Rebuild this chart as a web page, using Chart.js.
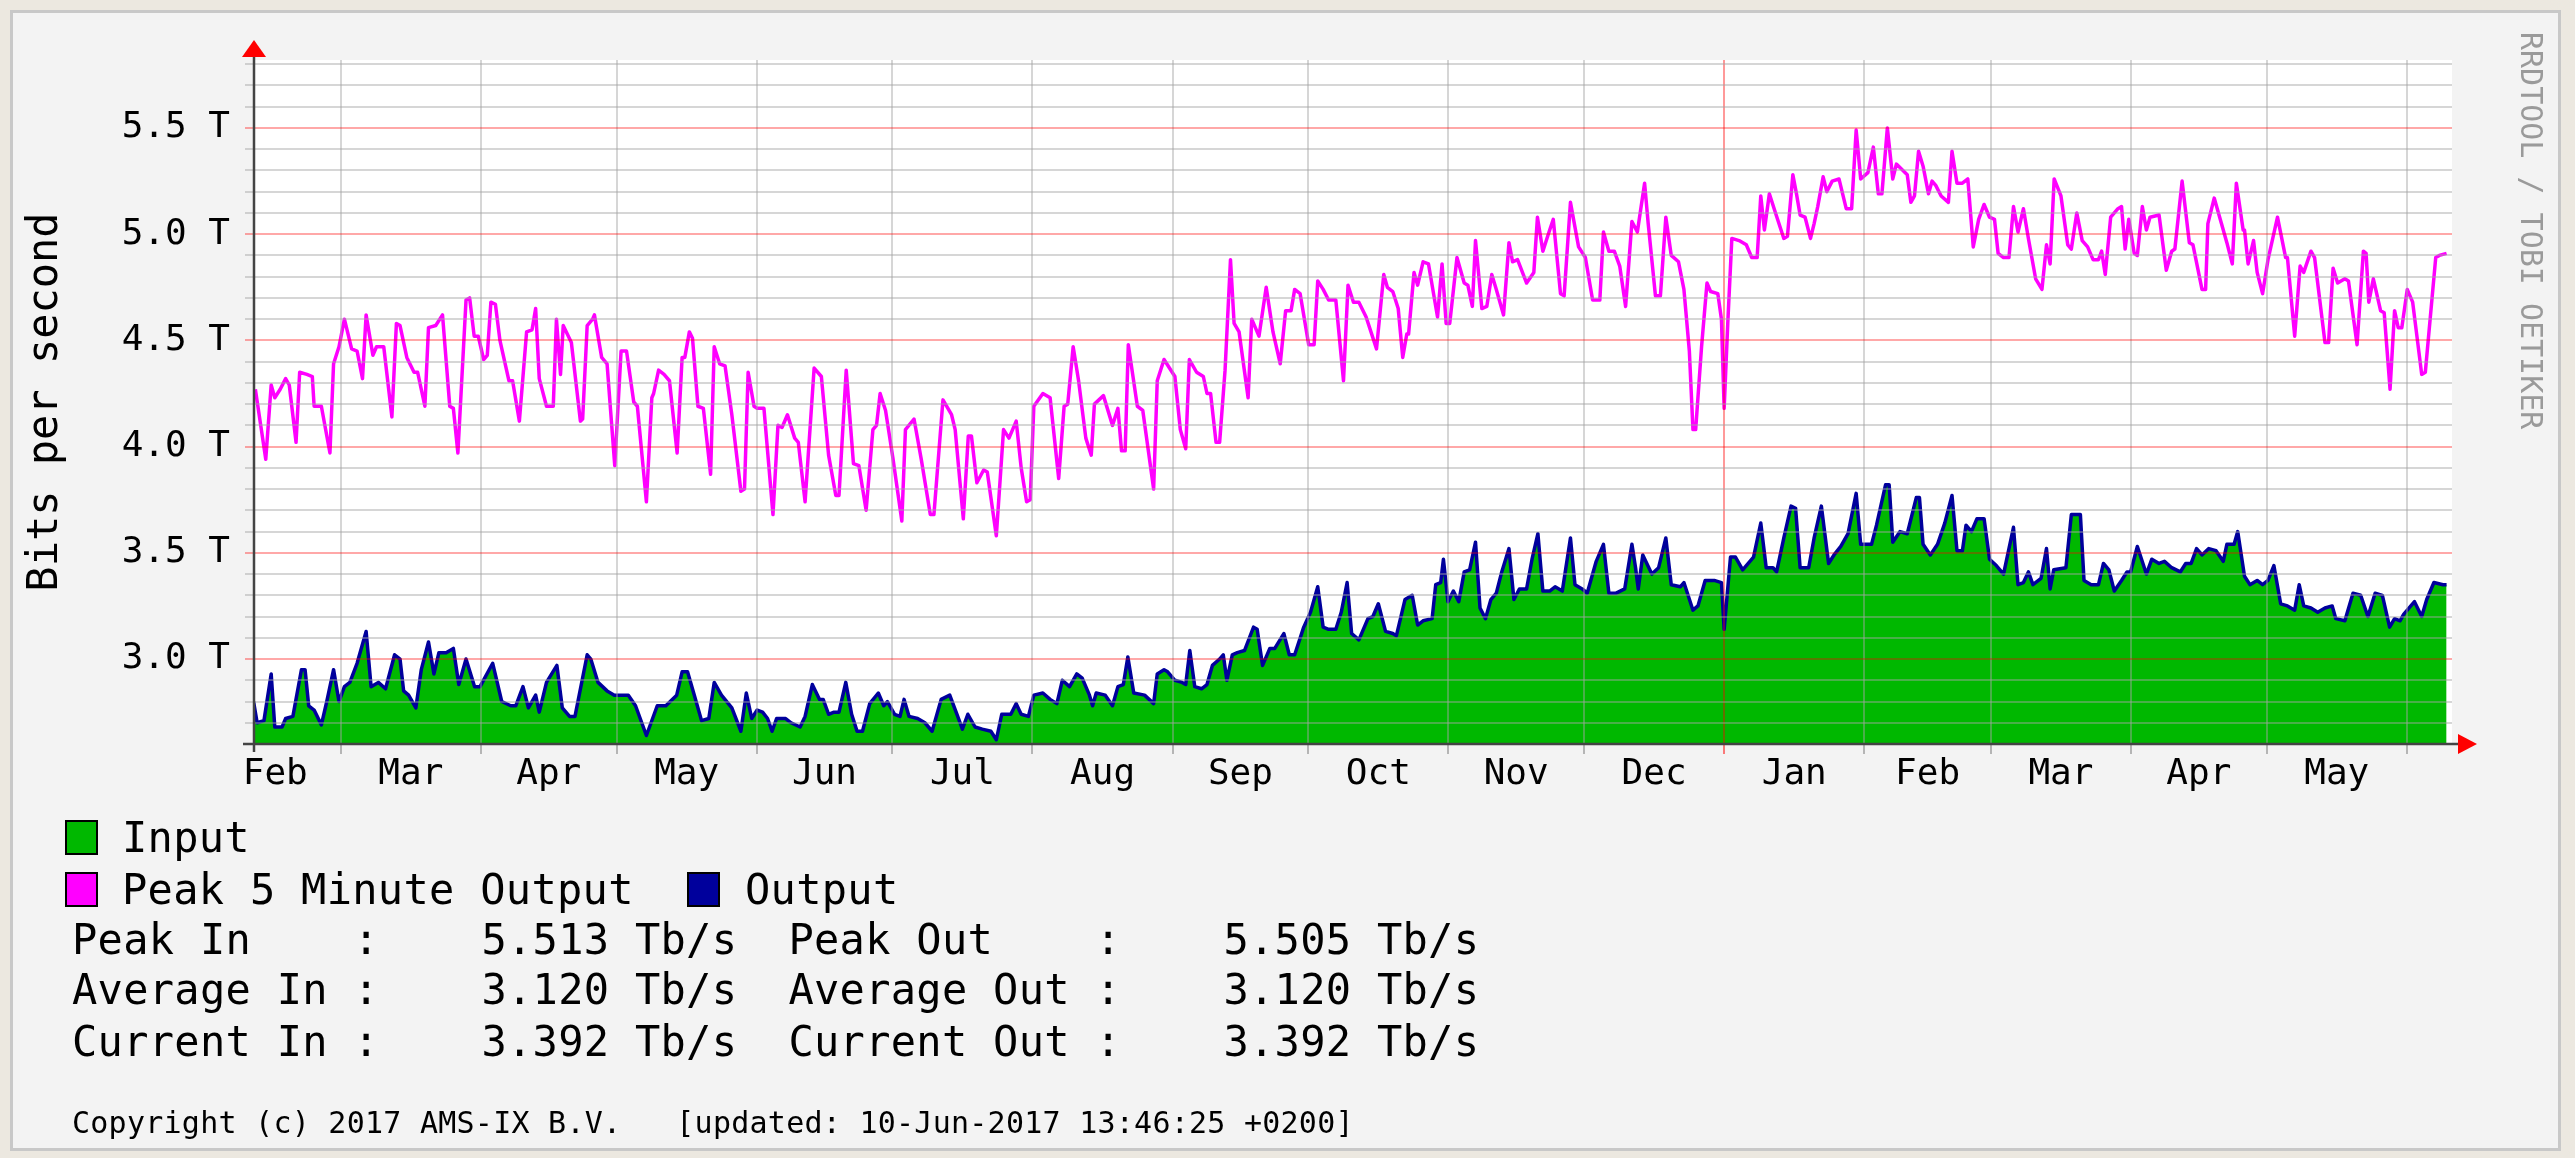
<!DOCTYPE html>
<html>
<head>
<meta charset="utf-8">
<script src="https://cdn.jsdelivr.net/npm/chart.js@4/dist/chart.umd.min.js"></script>
<style>
  html, body { margin:0; padding:0; }
  body { width:2575px; height:1158px; background:#ece8e0; position:relative; overflow:hidden; font-family:'DejaVu Sans Mono', monospace; color:#000; }
  #panel { position:absolute; left:10px; top:10px; width:2551px; height:1141px; box-sizing:border-box; background:#f3f3f3; border:3px solid #c8c8c8; }
  #c { position:absolute; left:0; top:0; }
  .sq { position:absolute; width:33px; height:35px; box-sizing:border-box; border:2px solid #000; }
  .lg { position:absolute; font-size:42px; line-height:42px; white-space:pre; letter-spacing:0.3px; }
  .cp { position:absolute; font-size:30px; line-height:30px; white-space:pre; letter-spacing:0.25px; }
  #credit { position:absolute; left:2516px; top:32px; font-size:30px; line-height:30px; color:#9a9a9a; writing-mode:vertical-rl; white-space:pre; }
</style>
</head>
<body>
<div id="panel"></div>
<canvas id="c" width="2575" height="1158"></canvas>
<div class="sq" style="left:65px;top:820px;background:#00b800"></div>
<div class="lg" style="left:122px;top:817px">Input</div>
<div class="sq" style="left:65px;top:872px;background:#ff00ff"></div>
<div class="lg" style="left:122px;top:869px">Peak 5 Minute Output</div>
<div class="sq" style="left:687px;top:872px;background:#00009c"></div>
<div class="lg" style="left:745px;top:869px">Output</div>
<div class="lg" id="s1" style="left:72px;top:919px"></div>
<div class="lg" id="s2" style="left:72px;top:969px"></div>
<div class="lg" id="s3" style="left:72px;top:1021px"></div>
<div class="cp" id="copy" style="left:72px;top:1108px"></div>
<div id="credit">RRDTOOL / TOBI OETIKER</div>
<script>
// ---------- data (x = day number counted from 1 Jan 2016) ----------
const xStart = 40.8, xEnd = 527;
const yMin = 2.6, yMax = 5.82;

const monthStartDays = [60, 91, 121, 152, 182, 213, 244, 274, 305, 335, 366, 397, 425, 456, 486, 517];
const yearStartDay = 366;
const monthLabelDays = [45.5, 75.5, 106, 136.5, 167, 197.5, 228.5, 259, 289.5, 320, 350.5, 381.5, 411, 440.5, 471, 501.5];
const monthLabels = ['Feb','Mar','Apr','May','Jun','Jul','Aug','Sep','Oct','Nov','Dec','Jan','Feb','Mar','Apr','May'];

const yTickValues = [2.6,2.7,2.8,2.9,3.0,3.1,3.2,3.3,3.4,3.5,3.6,3.7,3.8,3.9,4.0,4.1,4.2,4.3,4.4,4.5,4.6,4.7,4.8,4.9,5.0,5.1,5.2,5.3,5.4,5.5,5.6,5.7,5.8];
const yLabelValues = [3.0, 3.5, 4.0, 4.5, 5.0, 5.5];

const peakDays = [41.1,43.4,44.6,45.4,46.6,47.8,48.6,50.1,50.9,52.5,53.7,54.1,55.7,57.6,58.4,59.6,60.8,62.4,63.6,64.8,65.6,67.1,67.9,69.5,71.3,72.3,73.1,74.6,76.2,77.0,78.6,79.4,81.0,82.5,84.1,84.9,85.9,87.7,88.5,89.5,90.4,91.6,92.4,93.2,94.2,95.2,97.2,98.0,99.5,101.1,102.3,103.1,103.9,105.5,107.0,107.7,108.6,109.2,111.0,113.0,113.5,114.5,115.7,116.1,117.7,118.9,120.6,122.0,123.2,124.8,125.6,127.6,128.8,129.2,130.3,131.5,132.7,134.4,135.5,136.1,137.1,137.8,139.0,140.2,141.8,142.6,143.8,145.0,146.5,148.5,149.3,150.1,151.4,152.1,153.6,155.6,156.7,157.6,158.8,160.4,161.2,
162.7,164.7,166.3,167.9,169.5,170.2,171.8,173.4,174.6,176.2,177.7,178.5,179.3,180.5,182.1,184.1,184.9,186.8,188.4,190.4,191.2,193.2,195.1,195.9,197.7,198.8,199.5,200.7,202.2,203.0,205.0,206.6,207.8,209.4,210.5,211.7,212.5,213.3,215.3,216.9,218.8,220.0,220.8,222.0,223.2,224.8,226.0,226.7,228.7,230.7,231.9,232.7,233.5,234.2,236.2,237.4,239.8,240.6,242.1,243.3,244.5,245.7,246.9,247.7,249.3,250.8,251.6,252.4,253.6,254.4,255.6,256.8,257.6,258.7,260.7,261.5,263.1,264.7,266.2,267.8,269.0,270.2,271.0,272.2,274.1,275.3,276.1,277.3,278.5,280.1,281.8,282.8,
284.0,285.2,286.8,289.1,290.7,291.5,292.7,293.9,294.9,295.8,296.2,297.4,298.2,299.4,300.6,302.6,303.6,304.5,305.3,306.9,308.5,309.3,310.3,311.0,312.4,313.5,314.6,315.6,317.2,318.4,319.2,320.3,322.3,323.9,324.7,325.9,327.1,328.2,329.8,330.6,332.0,333.8,335.3,336.9,338.5,339.3,340.5,341.7,342.9,344.2,345.6,346.8,348.4,349.2,350.8,351.9,353.1,354.3,355.9,357.1,358.3,359.1,359.7,361.0,362.2,363.0,364.6,365.4,366.0,366.8,367.7,369.3,370.9,372.1,373.3,374.1,374.9,376.0,377.2,379.2,380.0,381.2,382.0,382.8,383.9,385.1,385.9,386.7,387.9,388.7,389.9,391.4,393.0,394.2,395.2,396.2,397.8,399.0,400.1,400.9,402.1,403.3,404.1,
406.5,407.3,408.1,409.0,410.0,411.2,412.0,412.8,414.0,415.6,416.4,417.5,418.7,419.9,421.1,422.3,423.5,424.7,425.8,426.6,427.8,429.0,430.0,431.0,432.2,433.3,434.9,436.3,437.3,438.1,439.0,440.5,442.0,442.8,444.0,445.2,446.4,447.6,448.8,449.5,450.3,451.5,453.1,453.9,454.7,455.5,456.7,457.4,458.5,459.4,460.2,462.2,463.8,465.0,465.7,467.3,468.9,469.7,471.7,472.5,473.0,474.4,476.0,477.2,478.4,479.3,480.8,481.1,481.9,483.1,483.9,485.1,486.3,488.4,490.2,490.6,492.2,493.4,494.2,495.8,496.6,498.9,499.7,500.7,501.7,503.3,504.1,506.0,507.4,508.0,508.6,509.6,511.2,512.0,513.3,514.3,515.1,515.9,517.1,518.3,520.3,521.1,523.4,524.2,525.8];
const peakValues = [4.27,3.94,4.29,4.23,4.27,4.32,4.29,4.02,4.35,4.34,4.33,4.19,4.19,3.97,4.39,4.47,4.60,4.46,4.45,4.32,4.62,4.43,4.47,4.47,4.14,4.58,4.57,4.42,4.35,4.35,4.19,4.56,4.57,4.62,4.19,4.18,3.97,4.69,4.70,4.52,4.52,4.41,4.43,4.68,4.67,4.50,4.31,4.31,4.12,4.54,4.55,4.65,4.32,4.19,4.19,4.60,4.34,4.57,4.49,4.12,4.13,4.57,4.60,4.62,4.42,4.39,3.91,4.45,4.45,4.21,4.19,3.74,4.23,4.25,4.36,4.34,4.31,3.97,4.42,4.42,4.54,4.51,4.19,4.18,3.87,4.47,4.39,4.38,4.15,3.79,3.80,4.35,4.19,4.18,4.18,3.68,4.10,4.09,4.15,4.04,4.02,
3.74,4.37,4.33,3.96,3.77,3.77,4.36,3.92,3.91,3.70,4.08,4.10,4.25,4.17,3.95,3.65,4.08,4.13,3.94,3.68,3.68,4.22,4.15,4.08,3.66,4.05,4.05,3.83,3.89,3.88,3.58,4.08,4.04,4.12,3.90,3.74,3.75,4.19,4.25,4.23,3.85,4.19,4.20,4.47,4.31,4.04,3.96,4.20,4.24,4.10,4.18,3.98,3.98,4.48,4.19,4.17,3.80,4.31,4.41,4.37,4.33,4.08,3.99,4.41,4.35,4.33,4.25,4.25,4.02,4.02,4.36,4.88,4.58,4.54,4.23,4.60,4.52,4.75,4.54,4.39,4.64,4.64,4.74,4.72,4.48,4.48,4.78,4.74,4.69,4.69,4.31,4.76,
4.68,4.68,4.61,4.46,4.81,4.75,4.73,4.65,4.42,4.53,4.53,4.82,4.76,4.87,4.86,4.61,4.86,4.58,4.58,4.89,4.77,4.76,4.66,4.97,4.65,4.66,4.81,4.74,4.62,4.96,4.87,4.88,4.77,4.82,5.08,4.92,5.00,5.07,4.72,4.71,5.15,4.94,4.89,4.69,4.69,5.01,4.92,4.92,4.85,4.66,5.06,5.01,5.24,5.05,4.71,4.71,5.08,4.90,4.87,4.74,4.45,4.08,4.08,4.47,4.77,4.73,4.72,4.60,4.18,4.58,4.98,4.97,4.95,4.89,4.89,5.18,5.02,5.19,5.11,4.98,4.99,5.28,5.19,5.09,5.08,4.98,5.05,5.13,5.27,5.20,5.25,5.26,5.12,5.12,5.49,5.26,5.29,5.41,5.19,5.19,5.50,5.26,5.33,
5.28,5.15,5.18,5.39,5.32,5.19,5.25,5.23,5.18,5.15,5.39,5.24,5.24,5.26,4.94,5.07,5.14,5.08,5.07,4.91,4.89,4.89,5.13,5.01,5.12,4.98,4.79,4.74,4.95,4.86,5.26,5.18,4.95,4.93,5.10,4.97,4.94,4.88,4.88,4.92,4.81,5.08,5.12,5.13,4.93,5.07,4.91,4.90,5.13,5.02,5.08,5.09,4.83,4.92,4.93,5.25,4.96,4.95,4.74,4.74,5.05,5.17,5.05,4.96,4.86,5.24,5.02,5.02,4.86,4.97,4.82,4.72,4.88,5.08,4.89,4.89,4.52,4.85,4.82,4.92,4.89,4.49,4.49,4.84,4.77,4.79,4.78,4.48,4.92,4.91,4.68,4.79,4.64,4.63,4.27,4.64,4.56,4.56,4.74,4.68,4.34,4.35,4.89,4.90,4.91];

const inputDays = [40.7,41.5,43.0,44.6,45.4,47.0,47.8,49.4,51.3,52.1,52.9,54.1,55.7,56.9,58.4,59.6,60.8,62.0,63.6,65.6,66.7,68.3,69.9,71.9,73.1,73.9,75.0,76.6,77.8,79.4,80.6,81.7,83.3,84.9,86.1,87.7,89.6,90.8,93.6,95.6,97.6,98.7,100.3,101.5,103.1,103.9,105.5,107.8,109.0,110.6,111.8,114.5,115.3,116.9,118.9,120.5,122.0,123.6,125.2,127.6,130.0,131.9,134.3,135.5,136.7,138.2,139.8,141.4,142.6,144.2,146.5,148.5,149.7,150.9,152.1,153.3,154.4,155.4,156.4,158.4,159.6,
161.6,162.7,164.3,165.9,166.7,167.9,169.1,170.2,171.7,173.0,174.2,175.4,177.0,178.9,180.1,180.9,182.5,183.7,184.6,185.7,187.6,189.2,190.8,192.8,194.7,196.3,197.5,198.7,200.3,201.9,203.8,205.0,206.2,208.2,209.4,210.5,212.1,213.3,215.3,216.9,218.4,219.6,221.2,222.8,224.0,225.6,226.3,227.1,229.1,230.7,231.9,233.1,234.1,235.4,237.8,239.8,240.6,242.1,242.9,244.5,246.1,246.9,247.8,248.9,250.4,251.6,252.8,254.4,255.2,256.0,257.2,258.3,259.9,261.9,262.7,263.9,265.5,266.6,268.6,269.8,271.0,273.0,274.5,276.1,277.3,278.5,280.1,281.3,282.6,
283.6,285.2,287.2,288.3,289.5,291.1,292.7,293.5,295.4,297.0,298.2,299.4,301.4,302.2,303.3,303.9,304.9,306.1,307.3,308.5,309.7,311.0,312.0,313.2,314.4,315.6,316.8,318.4,319.5,320.7,322.3,323.5,324.8,325.9,327.4,328.6,330.2,332.0,333.0,334.6,335.7,337.7,339.3,340.5,342.1,344.0,345.6,346.4,347.0,348.0,350.0,351.5,353.1,354.3,356.3,357.1,359.1,360.2,361.8,362.6,363.8,365.4,366.0,367.4,368.5,370.1,372.5,374.1,375.3,376.8,377.6,379.2,380.8,381.8,382.8,384.7,385.9,387.5,389.1,390.3,391.8,393.4,395.2,396.2,398.6,399.7,401.7,402.5,403.3,
404.9,406.5,408.5,409.2,410.0,411.6,413.2,414.8,416.4,417.5,418.7,419.5,420.7,421.9,423.5,424.7,426.2,427.8,430.0,431.0,432.2,433.3,434.3,436.1,437.3,438.1,438.9,441.6,442.8,444.8,445.6,447.2,448.8,449.9,451.1,452.3,453.9,455.1,455.9,457.4,459.4,460.6,462.2,463.4,465.0,466.9,468.1,469.3,470.5,471.7,473.2,474.8,476.4,477.2,478.8,479.6,481.1,482.3,483.9,485.1,486.3,487.6,489.1,490.6,492.2,493.2,494.2,495.8,497.3,498.9,500.5,501.3,503.3,505.1,506.8,508.4,510.0,511.6,513.2,514.3,515.5,516.3,518.7,520.3,521.4,523.0,525.0,525.8];
const inputValues = [2.80,2.70,2.71,2.93,2.68,2.68,2.72,2.73,2.95,2.95,2.78,2.76,2.69,2.80,2.95,2.80,2.87,2.89,2.98,3.13,2.87,2.89,2.86,3.02,3.00,2.85,2.83,2.77,2.95,3.08,2.93,3.03,3.03,3.05,2.88,3.00,2.87,2.87,2.98,2.80,2.78,2.78,2.87,2.77,2.83,2.75,2.89,2.97,2.77,2.73,2.73,3.02,3.00,2.89,2.85,2.83,2.83,2.83,2.78,2.64,2.78,2.78,2.83,2.94,2.94,2.83,2.71,2.72,2.89,2.83,2.77,2.66,2.84,2.72,2.76,2.75,2.72,2.66,2.72,2.72,2.70,
2.68,2.73,2.88,2.81,2.81,2.74,2.75,2.75,2.89,2.74,2.66,2.66,2.79,2.84,2.78,2.80,2.74,2.73,2.81,2.73,2.72,2.70,2.66,2.81,2.83,2.74,2.67,2.74,2.68,2.67,2.66,2.62,2.74,2.74,2.79,2.74,2.73,2.83,2.84,2.81,2.79,2.90,2.87,2.93,2.91,2.83,2.78,2.84,2.83,2.78,2.87,2.88,3.01,2.84,2.83,2.79,2.93,2.95,2.94,2.90,2.89,2.88,3.04,2.87,2.86,2.88,2.97,3.00,3.02,2.90,3.02,3.03,3.04,3.15,3.14,2.97,3.05,3.05,3.12,3.02,3.02,3.15,3.22,3.34,3.15,3.14,3.14,3.22,3.36,
3.12,3.09,3.19,3.20,3.26,3.13,3.12,3.11,3.28,3.30,3.16,3.18,3.19,3.35,3.36,3.47,3.27,3.32,3.27,3.41,3.42,3.55,3.24,3.19,3.28,3.31,3.41,3.52,3.28,3.33,3.33,3.47,3.59,3.32,3.32,3.34,3.32,3.57,3.35,3.33,3.31,3.46,3.54,3.31,3.31,3.33,3.54,3.43,3.33,3.49,3.40,3.43,3.57,3.35,3.34,3.36,3.23,3.25,3.37,3.37,3.37,3.36,3.14,3.48,3.48,3.42,3.48,3.64,3.43,3.43,3.41,3.57,3.72,3.71,3.43,3.43,3.57,3.72,3.45,3.49,3.53,3.59,3.78,3.54,3.54,3.63,3.82,3.82,3.55,
3.60,3.59,3.76,3.76,3.54,3.49,3.54,3.64,3.77,3.51,3.51,3.63,3.60,3.66,3.66,3.47,3.44,3.40,3.62,3.35,3.36,3.41,3.35,3.38,3.52,3.33,3.42,3.43,3.68,3.68,3.37,3.35,3.35,3.45,3.42,3.32,3.37,3.41,3.41,3.53,3.40,3.47,3.45,3.46,3.43,3.41,3.45,3.45,3.52,3.49,3.52,3.51,3.46,3.54,3.54,3.60,3.39,3.35,3.37,3.35,3.37,3.44,3.26,3.25,3.23,3.35,3.25,3.24,3.22,3.24,3.25,3.19,3.18,3.31,3.30,3.20,3.31,3.30,3.15,3.19,3.18,3.21,3.27,3.20,3.28,3.36,3.35,3.35];

// the output trace lies on the input edge in the picture (in = out in the stats)
const outputDays = inputDays;
const outputValues = inputValues;

const statsRows = [
  'Peak In    :    5.513 Tb/s  Peak Out    :    5.505 Tb/s',
  'Average In :    3.120 Tb/s  Average Out :    3.120 Tb/s',
  'Current In :    3.392 Tb/s  Current Out :    3.392 Tb/s'
];
const copyrightText = 'Copyright (c) 2017 AMS-IX B.V.   [updated: 10-Jun-2017 13:46:25 +0200]';

document.getElementById('s1').textContent = statsRows[0];
document.getElementById('s2').textContent = statsRows[1];
document.getElementById('s3').textContent = statsRows[2];
document.getElementById('copy').textContent = copyrightText;

// ---------- chart ----------
const FONT = 'DejaVu Sans Mono';
const MINOR = 'rgba(165,165,165,0.45)';
const MAJOR = 'rgba(255,0,0,0.34)';
const isMajor = v => yLabelValues.some(l => Math.abs(l - v) < 1e-6);
const pts = (xs, ys) => xs.map((x, i) => ({x: x, y: ys[i]}));

const framePlugin = {
  id: 'frame',
  beforeDraw(chart) {
    const {ctx, chartArea: a} = chart;
    ctx.save();
    ctx.fillStyle = '#ffffff';
    ctx.fillRect(a.left, a.top, a.right - a.left, a.bottom - a.top);
    ctx.restore();
  },
  afterDraw(chart) {
    const {ctx, chartArea: a} = chart;
    ctx.save();
    ctx.strokeStyle = '#444444';
    ctx.lineWidth = 2.5;
    ctx.beginPath();
    ctx.moveTo(a.left, a.bottom + 8);
    ctx.lineTo(a.left, a.top - 4);
    ctx.moveTo(a.left - 11, a.bottom);
    ctx.lineTo(a.right + 7, a.bottom);
    ctx.stroke();
    ctx.fillStyle = '#ff0000';
    ctx.beginPath();
    ctx.moveTo(a.left - 12, a.top - 3);
    ctx.lineTo(a.left + 12, a.top - 3);
    ctx.lineTo(a.left, a.top - 20);
    ctx.closePath();
    ctx.fill();
    ctx.beginPath();
    ctx.moveTo(a.right + 6, a.bottom - 10);
    ctx.lineTo(a.right + 6, a.bottom + 10);
    ctx.lineTo(a.right + 25, a.bottom);
    ctx.closePath();
    ctx.fill();
    ctx.restore();
  }
};

new Chart(document.getElementById('c'), {
  type: 'line',
  data: {
    datasets: [
      { label: 'Input', data: pts(inputDays, inputValues), order: 3,
        borderWidth: 0, borderColor: 'rgba(0,0,0,0)', backgroundColor: '#00b800', fill: 'start',
        pointRadius: 0, tension: 0, xAxisID: 'x', yAxisID: 'y' },
      { label: 'Output', data: pts(outputDays, outputValues), order: 2,
        borderWidth: 3.5, borderColor: '#00009c', fill: false, borderJoinStyle: 'round',
        pointRadius: 0, tension: 0, xAxisID: 'x', yAxisID: 'y' },
      { label: 'Peak 5 Minute Output', data: pts(peakDays, peakValues), order: 1,
        borderWidth: 3.5, borderColor: '#ff00ff', fill: false, borderJoinStyle: 'round',
        pointRadius: 0, tension: 0, xAxisID: 'x', yAxisID: 'y' }
    ]
  },
  options: {
    responsive: false,
    devicePixelRatio: 1,
    animation: false,
    parsing: true,
    layout: { padding: { left: 0, top: 60, right: 123, bottom: 0 } },
    plugins: { legend: { display: false }, tooltip: { enabled: false } },
    scales: {
      x: {
        type: 'linear', position: 'bottom', weight: 0, min: xStart, max: xEnd,
        afterFit(s) { s.height = 0; },
        afterBuildTicks(s) { s.ticks = monthStartDays.map(v => ({ value: v })); },
        ticks: { display: false, autoSkip: false },
        border: { display: false },
        grid: {
          z: 1, lineWidth: 2, drawTicks: true, tickLength: 10,
          color: c => (c.tick && c.tick.value === yearStartDay) ? 'rgba(255,0,0,0.4)' : MINOR,
          tickColor: c => (c.tick && c.tick.value === yearStartDay) ? 'rgba(255,0,0,0.5)' : 'rgba(120,120,120,0.5)'
        }
      },
      xLabels: {
        type: 'linear', position: 'bottom', weight: 1, min: xStart, max: xEnd,
        afterFit(s) { s.height = 414; },
        afterBuildTicks(s) { s.ticks = monthLabelDays.map(v => ({ value: v })); },
        ticks: {
          autoSkip: false, maxRotation: 0, minRotation: 0, padding: 9, color: '#000',
          font: { family: FONT, size: 36 },
          callback: (v, i) => monthLabels[i]
        },
        border: { display: false },
        grid: { display: false, drawTicks: false }
      },
      y: {
        type: 'linear', position: 'left', min: yMin, max: yMax,
        afterFit(s) { s.width = 254; },
        afterBuildTicks(s) { s.ticks = yTickValues.map(v => ({ value: v })); },
        ticks: {
          autoSkip: false, padding: 15, color: '#000',
          font: { family: FONT, size: 36 },
          callback: v => isMajor(v) ? v.toFixed(1) + ' T' : ''
        },
        border: { display: false },
        grid: {
          z: 1, lineWidth: 2, drawTicks: true, tickLength: 9,
          color: c => (c.tick && isMajor(c.tick.value)) ? MAJOR : MINOR,
          tickColor: c => (c.tick && isMajor(c.tick.value)) ? MAJOR : MINOR
        },
        title: {
          display: true, text: 'Bits per second', color: '#000',
          font: { family: FONT, size: 42 },
          padding: { top: 21, bottom: 0 }
        }
      }
    }
  },
  plugins: [framePlugin]
});
</script>
</body>
</html>
